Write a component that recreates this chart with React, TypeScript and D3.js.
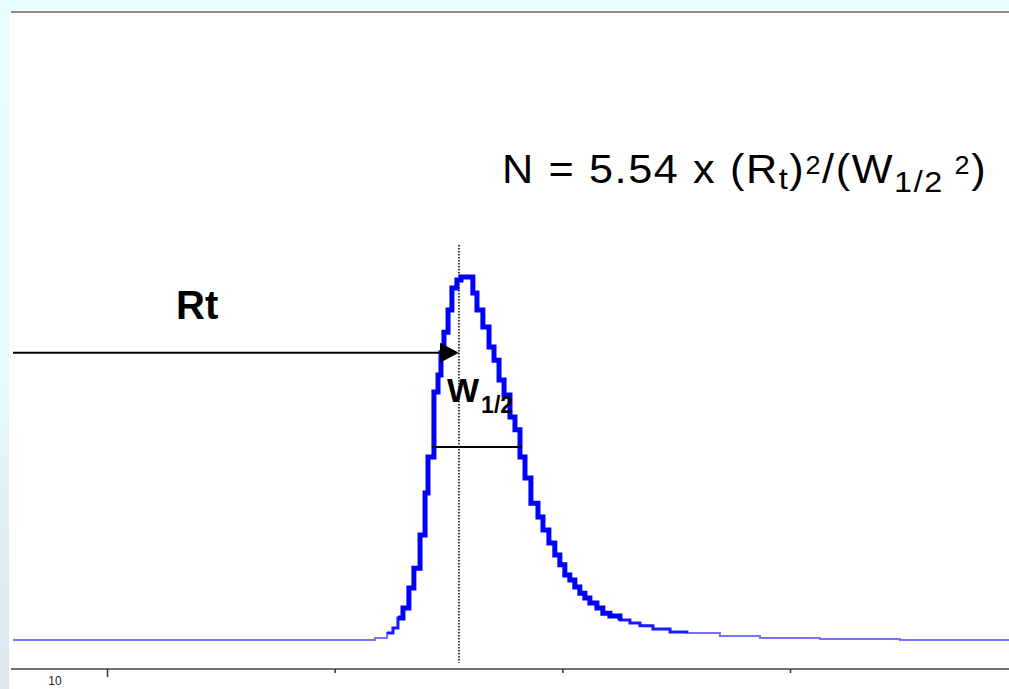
import React, { useEffect, useRef } from 'react'
import * as d3 from 'd3'

const W = 1009
const H = 689

// retention time (min) and detector signal (% of peak height)
const TIMES = [
  10.587, 12.177, 12.23, 12.256, 12.278, 12.3, 12.326, 12.348, 12.375, 12.397,
  12.41, 12.436, 12.454, 12.467, 12.48, 12.498, 12.515, 12.537, 12.555,
  12.607, 12.625, 12.651, 12.678, 12.7, 12.722, 12.744, 12.77, 12.792, 12.814,
  12.836, 12.862, 12.893, 12.915, 12.941, 12.967, 12.989, 13.011, 13.033,
  13.055, 13.077, 13.099, 13.121, 13.152, 13.178, 13.209, 13.253, 13.297,
  13.341, 13.398, 13.473, 13.547, 13.692, 13.868, 14.131, 14.483, 14.962,
]
const SIGNAL = [
  0, 0.55, 1.93, 3.31, 6.06, 8.82, 14.3, 19.8, 28.9, 40.5,
  50.4, 68.3, 73.0, 79.1, 84.8, 90.9, 97.0, 99.2, 100,
  95.6, 90.9, 86.2, 80.7, 77.1, 71.6, 67.5, 61.4, 57.9, 50.4,
  44.6, 37.7, 33.9, 30.3, 26.7, 23.4, 20.7, 17.9, 16.5,
  14.6, 12.9, 11.6, 10.2, 8.8, 7.4, 6.6, 5.5, 4.7,
  3.9, 3.0, 2.2, 1.9, 1.1, 0.55, 0.28, 0, 0,
]
const TICK_VALUES = [11, 12, 13, 14]
const RT = 12.546
const RT_ARROW_LEVEL = 79.1
const HALF_LEVEL = 53.2
const HALF_START = 12.427
const HALF_END = 12.823

const FONT = '"Liberation Sans", Arial, Helvetica, sans-serif'

type Pt = [number, number]

export default function App() {
  const axisRef = useRef<SVGGElement>(null)

  const x = d3.scaleLinear().domain([11, 14]).range([107, 790])
  const y = d3.scaleLinear().domain([0, 100]).range([640, 277])

  const pts: Pt[] = TIMES.map((t, i) => [t, SIGNAL[i]])
  const line = d3.line<Pt>()
    .x(d => x(d[0]))
    .y(d => y(d[1]))
    .curve(d3.curveStepAfter)

  // the trace gets heavier where the signal is up
  const above = (lim: number) => {
    const idx = pts.map((p, i) => (p[1] >= lim ? i : -1)).filter(i => i >= 0)
    return pts.slice(idx[0], idx[idx.length - 1] + 1)
  }

  useEffect(() => {
    const g = d3.select(axisRef.current)
    g.selectAll('*').remove()
    g.call(
      d3.axisBottom(x)
        .tickValues(TICK_VALUES)
        .tickSize(4)
        .tickFormat(() => '')
    )
    g.select('.domain').remove()
    g.selectAll('.tick line').attr('stroke', '#333').attr('stroke-width', 1.5)
    g.selectAll('.tick line').filter((d: any) => d === TICK_VALUES[0]).attr('y2', 8)
  }, [])

  const xRt = x(RT)
  const yArrow = y(RT_ARROW_LEVEL)

  return (
    <svg width={W} height={H} style={{ position: 'absolute', left: 0, top: 0 }} fontFamily={FONT}>
      <defs>
        <linearGradient id="strip" x1="0" y1="0" x2="0" y2="1">
          <stop offset="0" stopColor="#e8fdfd" />
          <stop offset="0.55" stopColor="#e4fbfb" />
          <stop offset="0.75" stopColor="#dff0f2" />
          <stop offset="1" stopColor="#dde7ea" />
        </linearGradient>
      </defs>
      <rect width={W} height={H} fill="url(#strip)" />
      <rect x={9} y={10} width={W - 9} height={H - 10} fill="#fff" />

      <line x1={11} x2={W} y1={12} y2={12} stroke="#666" strokeWidth={1.6} />
      <line x1={11} x2={W} y1={669} y2={669} stroke="#444" strokeWidth={1.5} />
      <g ref={axisRef} transform="translate(0,669)" />
      <text x={55} y={685} fontSize={12} textAnchor="middle" fill="#222">10</text>

      <line x1={xRt} x2={xRt} y1={y(108.8)} y2={y(-6.3)} stroke="#000" strokeWidth={1.5} strokeDasharray="1.5,1.5" />

      <path d={line(pts) || ''} fill="none" stroke="#7474ff" strokeWidth={2} />
      <path d={line(above(1.5)) || ''} fill="none" stroke="#1a1aff" strokeWidth={3} />
      <path d={line(above(5)) || ''} fill="none" stroke="#0000ff" strokeWidth={5} />

      <line x1={x(HALF_START)} x2={x(HALF_END)} y1={y(HALF_LEVEL)} y2={y(HALF_LEVEL)} stroke="#000" strokeWidth={2} />

      <line x1={x(TIMES[0])} x2={xRt - 15} y1={yArrow} y2={yArrow} stroke="#000" strokeWidth={2} />
      <path d={`M${xRt},${yArrow}L${xRt - 19},${yArrow - 10}L${xRt - 19},${yArrow + 10}Z`} fill="#000" />

      <text x={176} y={319} fontSize={40} fontWeight="bold" fill="#000">Rt</text>
      <text x={447} y={402} fontSize={34} fontWeight="bold" fill="#000">
        W<tspan fontSize={23} dy={11} dx={2}>1/2</tspan>
      </text>

      <text transform="translate(502,183) scale(1.08,1)" fontSize={40} fill="#000" letterSpacing={1.5}>
        N = 5.54 x (R<tspan fontSize={30} dy={6}>t</tspan>
        <tspan dy={-6}>)</tspan>
        <tspan fontSize={25} dy={-9}>2</tspan>
        <tspan dy={9}>/(W</tspan>
        <tspan fontSize={30} dy={9}>1/2</tspan>
        <tspan fontSize={30}> </tspan>
        <tspan fontSize={25} dy={-18}>2</tspan>
        <tspan dy={9}>)</tspan>
      </text>
    </svg>
  )
}
